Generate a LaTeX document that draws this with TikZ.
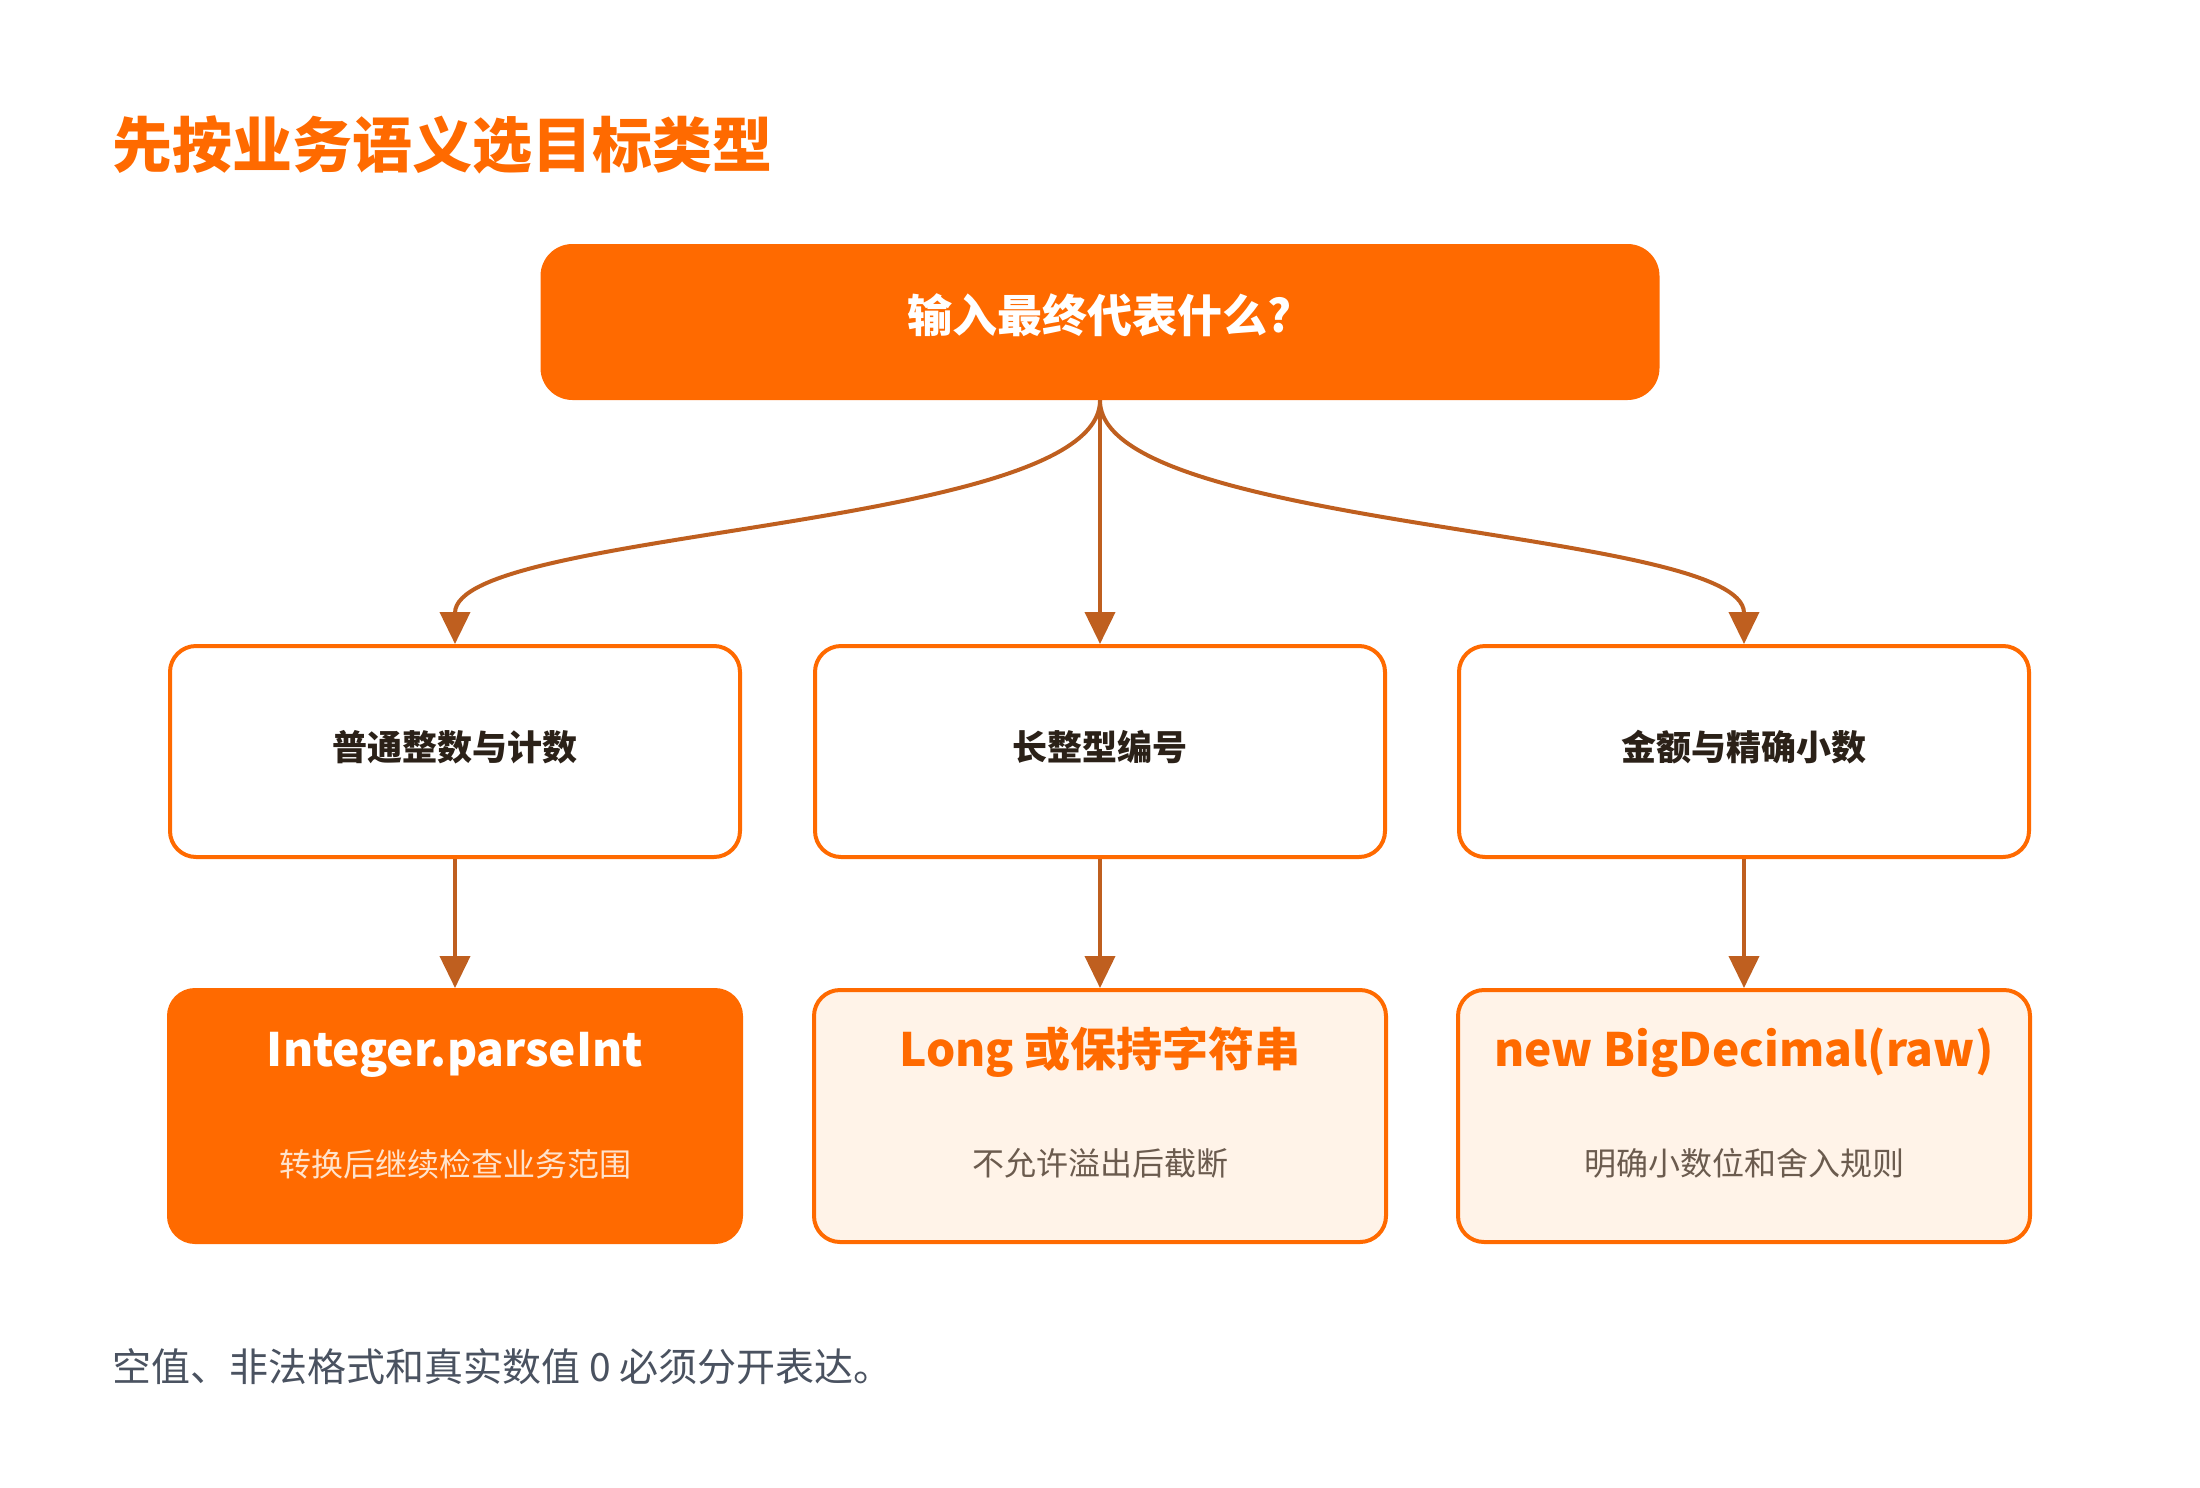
\documentclass[tikz,border=0pt]{standalone}
\usepackage{fontspec}
\setmainfont{Noto Sans CJK SC}
\usetikzlibrary{arrows.meta}
\definecolor{orangemain}{HTML}{FF6A00}
\definecolor{arrowc}{HTML}{BF5F1F}
\definecolor{darktext}{HTML}{2B2118}
\definecolor{subgray}{HTML}{6B5B4E}
\definecolor{creamfill}{HTML}{FFF3E8}
\definecolor{footc}{HTML}{4A5260}
\definecolor{lightsub}{HTML}{FFE3CC}
\tikzset{
  txt/.style={inner sep=0pt, text height=0.83em, text depth=0.07em},
  topbox/.style={draw=none, fill=orangemain, rounded corners=16pt, minimum width=559.5pt, minimum height=78pt},
  midbox/.style={draw=orangemain, line width=2pt, fill=white, rounded corners=13pt, minimum width=285pt, minimum height=105.5pt},
  botbox/.style={draw=orangemain, line width=2pt, fill=creamfill, rounded corners=13pt, minimum width=286pt, minimum height=126pt},
  botboxhot/.style={botbox, fill=orangemain},
  conn/.style={draw=arrowc, line width=2pt, -{Triangle[length=16pt, width=15pt]}},
  midtext/.style={txt, font=\fontsize{17.5pt}{20pt}\selectfont\bfseries, text=darktext},
  bottitle/.style={txt, font=\fontsize{23pt}{26pt}\selectfont\bfseries, text=orangemain},
  botsub/.style={txt, font=\fontsize{16pt}{19pt}\selectfont, text=subgray}
}
\begin{document}
\begin{tikzpicture}[x=0.5pt,y=-0.5pt]
\useasboundingbox (0,0) rectangle (2200,1488);
\fill[white] (0,0) rectangle (2200,1488);

\node[txt, anchor=west, font=\fontsize{30pt}{34pt}\selectfont\bfseries, text=orangemain] (title) at (112,160) {先按业务语义选目标类型};

\node[topbox] (top) at (1100,322) {};
\node[txt, font=\fontsize{22.5pt}{26pt}\selectfont\bfseries, text=white] (toptext) at (1100,325) {输入最终代表什么?};

\node[midbox] (m1) at (455,751.5) {};
\node[midbox] (m2) at (1100,751.5) {};
\node[midbox] (m3) at (1744,751.5) {};
\node[midtext] (m1t) at (455,753) {普通整数与计数};
\node[midtext] (m2t) at (1100,753) {长整型编号};
\node[midtext] (m3t) at (1744,753) {金额与精确小数};

\node[botboxhot] (b1) at (455,1116) {};
\node[botbox] (b2) at (1100,1116) {};
\node[botbox] (b3) at (1744,1116) {};
\node[bottitle, text=white] (b1t) at (455,1059) {Integer.parseInt};
\node[bottitle] (b2t) at (1100,1059) {Long 或保持字符串};
\node[bottitle] (b3t) at (1744,1059) {new BigDecimal(raw)};
\node[botsub, text=lightsub] (b1s) at (455,1169) {转换后继续检查业务范围};
\node[botsub] (b2s) at (1100,1168) {不允许溢出后截断};
\node[botsub] (b3s) at (1744,1168) {明确小数位和舍入规则};

\draw[conn] (top.south) .. controls +(0,130) and +(0,-116) .. (m1.north);
\draw[conn] (top.south) -- (m2.north);
\draw[conn] (top.south) .. controls +(0,130) and +(0,-116) .. (m3.north);
\draw[conn] (m1.south) -- (b1.north);
\draw[conn] (m2.south) -- (b2.north);
\draw[conn] (m3.south) -- (b3.north);

\node[txt, anchor=west, font=\fontsize{19.5pt}{23pt}\selectfont, text=footc] (foot) at (112,1374) {空值、非法格式和真实数值 0 必须分开表达。};
\end{tikzpicture}
\end{document}
